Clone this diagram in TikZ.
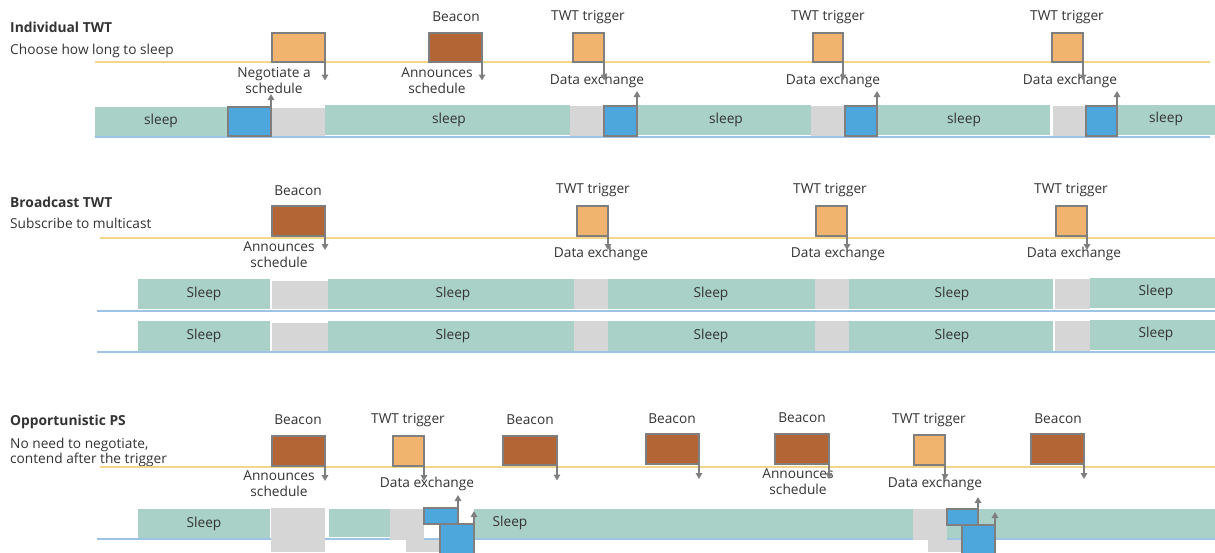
\documentclass[tikz,border=0pt]{standalone}
\usepackage{fontspec}
\setmainfont{Open Sans}
\usetikzlibrary{arrows.meta}
\definecolor{cteal}{HTML}{A9D1C7}
\definecolor{cgray}{HTML}{D6D6D6}
\definecolor{cblue}{HTML}{4DA6DC}
\definecolor{corange}{HTML}{F0B46F}
\definecolor{cbrown}{HTML}{B36535}
\definecolor{cborder}{HTML}{7F7F7F}
\definecolor{cyellow}{HTML}{F2D68A}
\definecolor{cbline}{HTML}{9DC3E6}
\definecolor{ctext}{HTML}{333333}
\tikzset{
  every node/.style={text=ctext, font=\fontsize{13.7}{16}\selectfont},
  seg/.style={anchor=north west, inner sep=0pt, outer sep=0pt, draw=none},
  teal/.style={seg, fill=cteal},
  grayseg/.style={seg, fill=cgray},
  blueseg/.style={seg, fill=cblue, draw=cborder, line width=1.2pt},
  frame/.style={anchor=north west, inner sep=0pt, outer sep=0pt, draw=cborder, line width=1.3pt},
  orangebox/.style={frame, fill=corange},
  brownbox/.style={frame, fill=cbrown},
  lbl/.style={inner sep=0pt, align=center},
  title/.style={anchor=base west, inner sep=0pt, font=\fontsize{13.8}{16}\selectfont\bfseries},
  sub/.style={anchor=base west, inner sep=0pt, align=left},
  arr/.style={draw=cborder, line width=1.8pt, -{Triangle[length=6pt,width=6.5pt]}},
  yline/.style={draw=cyellow, line width=1.2pt},
  bline/.style={draw=cbline, line width=1.2pt},
}
\begin{document}
\begin{tikzpicture}[x=1pt,y=-1pt]
\useasboundingbox (0,0) rectangle (1215,552);
% ================= Individual TWT =================
\node[title] (t1) at (10,32) {Individual TWT};
\node[sub] (s1) at (10,54) {Choose how long to sleep};
\coordinate (y1a) at (95,62); \coordinate (y1b) at (1210,62);
\draw[yline] (y1a) -- (y1b);
\coordinate (b1a) at (95,137); \coordinate (b1b) at (1210,137);
\draw[bline] (b1a) -- (b1b);
% bars
\node[teal, minimum width=133pt, minimum height=29pt] (a1) at (95,107) {};
\node at (161,121) (a1l) {sleep};
\node[grayseg, minimum width=53pt, minimum height=28pt] (a2) at (272,108) {};
\node[teal, minimum width=245pt, minimum height=30pt] (a3) at (325,105) {};
\node at (449,120) (a3l) {sleep};
\node[grayseg, minimum width=34pt, minimum height=30pt] (a4) at (570,106) {};
\node[teal, minimum width=174pt, minimum height=30pt] (a5) at (637,105) {};
\node at (726,120) (a5l) {sleep};
\node[grayseg, minimum width=34pt, minimum height=30pt] (a6) at (811,106) {};
\node[teal, minimum width=173pt, minimum height=30pt] (a7) at (877,105) {};
\node at (964,120) (a7l) {sleep};
\node[grayseg, minimum width=33pt, minimum height=30pt] (a8) at (1053,106) {};
\node[teal, minimum width=98pt, minimum height=30pt] (a9) at (1117,105) {};
\node at (1166,119) (a9l) {sleep};
\node[blueseg, minimum width=43pt, minimum height=29pt] (u1) at (228,107) {};
\node[blueseg, minimum width=33pt, minimum height=30pt] (u2) at (604,106) {};
\node[blueseg, minimum width=32pt, minimum height=30pt] (u3) at (845,106) {};
\node[blueseg, minimum width=31pt, minimum height=30pt] (u4) at (1086,106) {};
% boxes
\node[orangebox, minimum width=53pt, minimum height=29pt] (n1) at (272,33) {};
\node[brownbox, minimum width=53pt, minimum height=29pt] (n2) at (429,33) {};
\node[orangebox, minimum width=31pt, minimum height=29pt] (n3) at (573,33) {};
\node[orangebox, minimum width=30pt, minimum height=29pt] (n4) at (813,33) {};
\node[orangebox, minimum width=31pt, minimum height=29pt] (n5) at (1052,33) {};
% labels
\node[lbl] (l2) at (456,17) {Beacon};
\node[lbl] (l3) at (588,17) {TWT trigger};
\node[lbl] (l4) at (828,17) {TWT trigger};
\node[lbl] (l5) at (1067,17) {TWT trigger};
\node[lbl] (d1) at (274,81) {Negotiate a\\schedule};
\node[lbl] (d2) at (437,81) {Announces\\schedule};
\node[lbl] (d3) at (597,81) {Data exchange};
\node[lbl] (d4) at (833,81) {Data exchange};
\node[lbl] (d5) at (1070,81) {Data exchange};
% arrows
\foreach \n in {n1,n2,n3,n4,n5} \draw[arr] (\n.east) -- ++(0,33);
\draw[arr] (u1.north east) -- ++(0,-13);
\foreach \n in {u2,u3,u4} \draw[arr] (\n.north east) -- ++(0,-15);

% ================= Broadcast TWT =================
\node[title] (t2) at (10,207) {Broadcast TWT};
\node[sub] (s2) at (10,228) {Subscribe to multicast};
\coordinate (y2a) at (100,238); \coordinate (y2b) at (1215,238);
\draw[yline] (y2a) -- (y2b);
\coordinate (b2a) at (97,311); \coordinate (b2b) at (1215,311);
\draw[bline] (b2a) -- (b2b);
\coordinate (b3a) at (97,352); \coordinate (b3b) at (1215,352);
\draw[bline] (b3a) -- (b3b);
\foreach \r/\yy in {r/279, s/321} {
  \node[teal, minimum width=132pt, minimum height=30pt] (\r1) at (138,\yy) {};
  \node[grayseg, minimum width=56pt, minimum height=28pt] (\r2) at (272,\yy+2) {};
  \node[teal, minimum width=246pt, minimum height=30pt] (\r3) at (328,\yy) {};
  \node[grayseg, minimum width=34pt, minimum height=30pt] (\r4) at (574,\yy) {};
  \node[teal, minimum width=207pt, minimum height=30pt] (\r5) at (608,\yy) {};
  \node[grayseg, minimum width=34pt, minimum height=30pt] (\r6) at (815,\yy) {};
  \node[teal, minimum width=204pt, minimum height=30pt] (\r7) at (849,\yy) {};
  \node[grayseg, minimum width=35pt, minimum height=30pt] (\r8) at (1055,\yy) {};
  \node[teal, minimum width=125pt, minimum height=30pt] (\r9) at (1090,\yy-1) {};
  \node (\r1l) at (204,\yy+15) {Sleep};
  \node (\r3l) at (453,\yy+15) {Sleep};
  \node (\r5l) at (711,\yy+15) {Sleep};
  \node (\r7l) at (952,\yy+15) {Sleep};
  \node (\r9l) at (1156,\yy+13) {Sleep};
}
\node[brownbox, minimum width=53pt, minimum height=30pt] (m1) at (272,206) {};
\node[orangebox, minimum width=31pt, minimum height=30pt] (m2) at (577,206) {};
\node[orangebox, minimum width=31pt, minimum height=30pt] (m3) at (816,206) {};
\node[orangebox, minimum width=31pt, minimum height=30pt] (m4) at (1056,206) {};
\node[lbl] (k1) at (298,191) {Beacon};
\node[lbl] (k2) at (593,190) {TWT trigger};
\node[lbl] (k3) at (830,190) {TWT trigger};
\node[lbl] (k4) at (1071,190) {TWT trigger};
\node[lbl] (e1) at (279,255) {Announces\\schedule};
\node[lbl] (e2) at (601,254) {Data exchange};
\node[lbl] (e3) at (838,254) {Data exchange};
\node[lbl] (e4) at (1074,254) {Data exchange};
\foreach \n in {m1,m2,m3,m4} \draw[arr] (\n.east) -- ++(0,29);

% ================= Opportunistic PS =================
\node[title] (t3) at (10,425) {Opportunistic PS};
\node[sub] (s3) at (10,448) {No need to negotiate,};
\node[sub] (s3b) at (10,463) {contend after the trigger};
\coordinate (y3a) at (100,467); \coordinate (y3b) at (1215,467);
\draw[yline] (y3a) -- (y3b);
\coordinate (b4a) at (97,539); \coordinate (b4b) at (1215,539);
\draw[bline] (b4a) -- (b4b);
\node[teal, minimum width=132pt, minimum height=29pt] (c1) at (138,509) {};
\node (c1l) at (204,524) {Sleep};
\node[grayseg, minimum width=54pt, minimum height=44pt] (c2) at (271,508) {};
\node[teal, minimum width=61pt, minimum height=28pt] (c3) at (329,509) {};
\node[grayseg, minimum width=34pt, minimum height=31pt] (c4) at (390,509) {};
\node[grayseg, minimum width=34pt, minimum height=12pt] (c5) at (406,540) {};
\node[teal, minimum width=439pt, minimum height=29pt] (c6) at (474,509) {};
\node (c6l) at (510,523) {Sleep};
\node[teal, minimum width=268pt, minimum height=29pt] (c7) at (947,509) {};
\node[grayseg, minimum width=34pt, minimum height=31pt] (c8) at (913,509) {};
\node[grayseg, minimum width=34pt, minimum height=12pt] (c9) at (928,540) {};
\node[blueseg, minimum width=34pt, minimum height=16pt] (v1) at (424,508) {};
\node[blueseg, minimum width=34pt, minimum height=30pt] (v2) at (440,524) {};
\node[blueseg, minimum width=31pt, minimum height=16pt] (v3) at (947,509) {};
\node[blueseg, minimum width=33pt, minimum height=30pt] (v4) at (962,525) {};
\node[brownbox, minimum width=53pt, minimum height=30pt] (p1) at (272,436) {};
\node[orangebox, minimum width=31pt, minimum height=30pt] (p2) at (393,436) {};
\node[brownbox, minimum width=54pt, minimum height=29pt] (p3) at (503,436) {};
\node[brownbox, minimum width=53pt, minimum height=30pt] (p4) at (646,434) {};
\node[brownbox, minimum width=54pt, minimum height=30pt] (p5) at (775,434) {};
\node[orangebox, minimum width=31pt, minimum height=30pt] (p6) at (914,435) {};
\node[brownbox, minimum width=53pt, minimum height=30pt] (p7) at (1031,434) {};
\node[lbl] (q1) at (298,420) {Beacon};
\node[lbl] (q2) at (408,420) {TWT trigger};
\node[lbl] (q3) at (530,420) {Beacon};
\node[lbl] (q4) at (672,419) {Beacon};
\node[lbl] (q5) at (802,418) {Beacon};
\node[lbl] (q6) at (929,420) {TWT trigger};
\node[lbl] (q7) at (1058,419) {Beacon};
\node[lbl] (f1) at (279,484) {Announces\\schedule};
\node[lbl] (f2) at (427,484) {Data exchange};
\node[lbl] (f3) at (798,482) {Announces\\schedule};
\node[lbl] (f4) at (935,484) {Data exchange};
\foreach \n in {p1,p2,p3,p4,p5,p6,p7} \draw[arr] (\n.east) -- ++(0,30);
\draw[arr] (v1.south east) -- ++(0,-29);
\draw[arr] (v2.north east) -- ++(0,-13);
\draw[arr] (v3.south east) -- ++(0,-28);
\draw[arr] (v4.north east) -- ++(0,-13);
\end{tikzpicture}
\end{document}
